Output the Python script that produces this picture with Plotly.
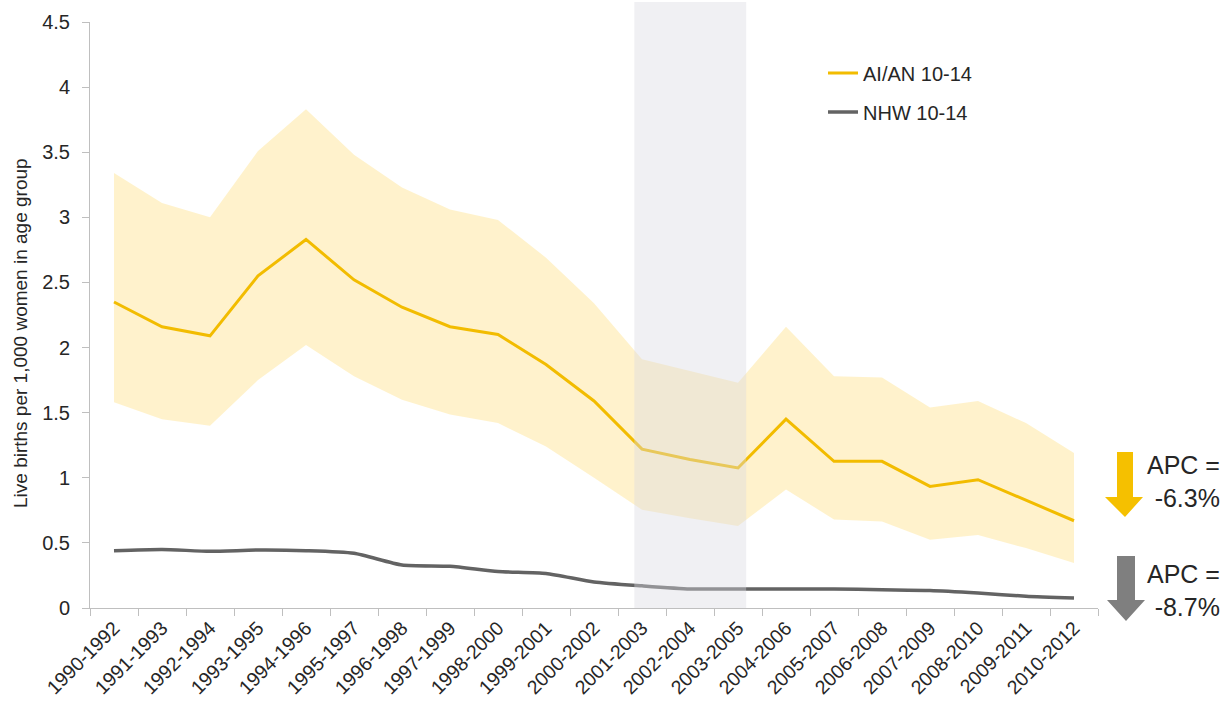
import plotly.graph_objects as go

periods = ["1990-1992", "1991-1993", "1992-1994", "1993-1995", "1994-1996", "1995-1997",
           "1996-1998", "1997-1999", "1998-2000", "1999-2001", "2000-2002", "2001-2003",
           "2002-2004", "2003-2005", "2004-2006", "2005-2007", "2006-2008", "2007-2009",
           "2008-2010", "2009-2011", "2010-2012"]

aian_rate = [2.35, 2.16, 2.09, 2.55, 2.83, 2.52, 2.31, 2.16, 2.10, 1.87, 1.59, 1.22,
             1.14, 1.075, 1.45, 1.126, 1.126, 0.934, 0.985, 0.83, 0.67]
aian_upper = [3.34, 3.11, 3.00, 3.51, 3.83, 3.48, 3.23, 3.06, 2.98, 2.69, 2.34, 1.91,
              1.82, 1.73, 2.16, 1.78, 1.77, 1.54, 1.59, 1.42, 1.19]
aian_lower = [1.58, 1.45, 1.40, 1.75, 2.02, 1.78, 1.60, 1.485, 1.42, 1.24, 1.00, 0.755,
              0.69, 0.63, 0.91, 0.68, 0.665, 0.525, 0.56, 0.46, 0.345]
nhw_rate = [0.44, 0.45, 0.435, 0.445, 0.44, 0.42, 0.33, 0.32, 0.28, 0.265, 0.20, 0.17,
            0.146, 0.146, 0.146, 0.146, 0.14, 0.135, 0.115, 0.09, 0.077]

apc_labels = ["APC =<br>-6.3%", "APC =<br>-8.7%"]

FONT = "Liberation Sans, Arial, sans-serif"
TXT = "#262626"
YELLOW = "#F2BC00"
GRAY = "#636363"

W, H = 1223, 713
L, T = 90, 22
PW, PH = 1008, 586
R, B = W - L - PW, H - T - PH


def px(x):
    # x in window pixels -> paper fraction
    return (x - L) / PW


def py(y):
    # y in window pixels -> paper fraction
    return (T + PH - y) / PH


fig = go.Figure()

fig.add_trace(go.Scatter(x=periods, y=aian_lower, mode="lines", line=dict(width=0),
                         showlegend=False, hoverinfo="skip"))
fig.add_trace(go.Scatter(x=periods, y=aian_upper, mode="lines", line=dict(width=0),
                         fill="tonexty", fillcolor="rgba(255,212,85,0.30)",
                         showlegend=False, hoverinfo="skip"))
fig.add_trace(go.Scatter(x=periods, y=aian_rate, mode="lines", name="AI/AN 10-14",
                         line=dict(color=YELLOW, width=3), legend="legend"))
fig.add_trace(go.Scatter(x=periods, y=nhw_rate, mode="lines", name="NHW 10-14",
                         line=dict(color=GRAY, width=3.5, shape="spline", smoothing=0.6),
                         legend="legend2"))

shapes = [
    dict(type="rect", xref="x", yref="paper", x0=10.84, x1=13.17, y0=0, y1=py(2),
         fillcolor="rgba(217,217,225,0.40)", line=dict(width=0), layer="above"),
]


def arrow(xl, xr, top, hl, hr, hs, tip, color):
    xc = (xl + xr) / 2
    path = (f"M {px(xl)},{py(top)} L {px(xr)},{py(top)} L {px(xr)},{py(hs)} "
            f"L {px(hr)},{py(hs)} L {px(xc)},{py(tip)} L {px(hl)},{py(hs)} "
            f"L {px(xl)},{py(hs)} Z")
    return dict(type="path", xref="paper", yref="paper", path=path,
                fillcolor=color, line=dict(width=0), layer="above")


shapes.append(arrow(1117, 1133, 452, 1105, 1143, 497, 517, "#F5C000"))
shapes.append(arrow(1117, 1135, 556, 1107, 1145, 600, 621, "#7F7F7F"))

annotations = [
    dict(text="Live births per 1,000 women in age group", xref="paper", yref="paper",
         x=px(20), y=py(333), textangle=-90, showarrow=False,
         font=dict(family=FONT, size=19, color=TXT), xanchor="center", yanchor="middle"),
    dict(text=apc_labels[0], xref="paper", yref="paper", x=px(1222), y=py(481),
         xanchor="right", yanchor="middle", align="right", showarrow=False,
         font=dict(family=FONT, size=25, color=TXT)),
    dict(text=apc_labels[1], xref="paper", yref="paper", x=px(1222), y=py(590),
         xanchor="right", yanchor="middle", align="right", showarrow=False,
         font=dict(family=FONT, size=25, color=TXT)),
]

fig.update_layout(
    width=W, height=H, autosize=False,
    margin=dict(l=L, r=R, t=T, b=B, pad=0, autoexpand=False),
    paper_bgcolor="white", plot_bgcolor="white",
    font=dict(family=FONT, color=TXT),
    shapes=shapes,
    annotations=annotations,
    legend=dict(x=px(823), y=py(73), xanchor="left", yanchor="middle",
                font=dict(family=FONT, size=20, color=TXT), bgcolor="rgba(0,0,0,0)"),
    legend2=dict(x=px(823), y=py(112), xanchor="left", yanchor="middle",
                 font=dict(family=FONT, size=20, color=TXT), bgcolor="rgba(0,0,0,0)"),
    xaxis=dict(
        type="category", range=[-0.5, 20.5], showline=True, linecolor="#BFBFBF",
        linewidth=1, ticks="outside", tickson="boundaries", ticklen=7,
        tickcolor="#BFBFBF", showgrid=False, zeroline=False, tickangle=-45,
        automargin=False,
        tickfont=dict(family=FONT, size=19.5, color=TXT),
    ),
    yaxis=dict(
        range=[0, 4.5], dtick=0.5, tick0=0, showline=True, linecolor="#BFBFBF",
        linewidth=1, ticks="outside", ticklen=7, tickcolor="#BFBFBF",
        showgrid=False, zeroline=False, ticklabelstandoff=8, automargin=False,
        tickfont=dict(family=FONT, size=20, color=TXT),
    ),
)

fig.write_html(
    "out.html",
    config={"displayModeBar": False},
    post_script="document.body.style.margin='0px';document.body.style.overflow='hidden';",
)
